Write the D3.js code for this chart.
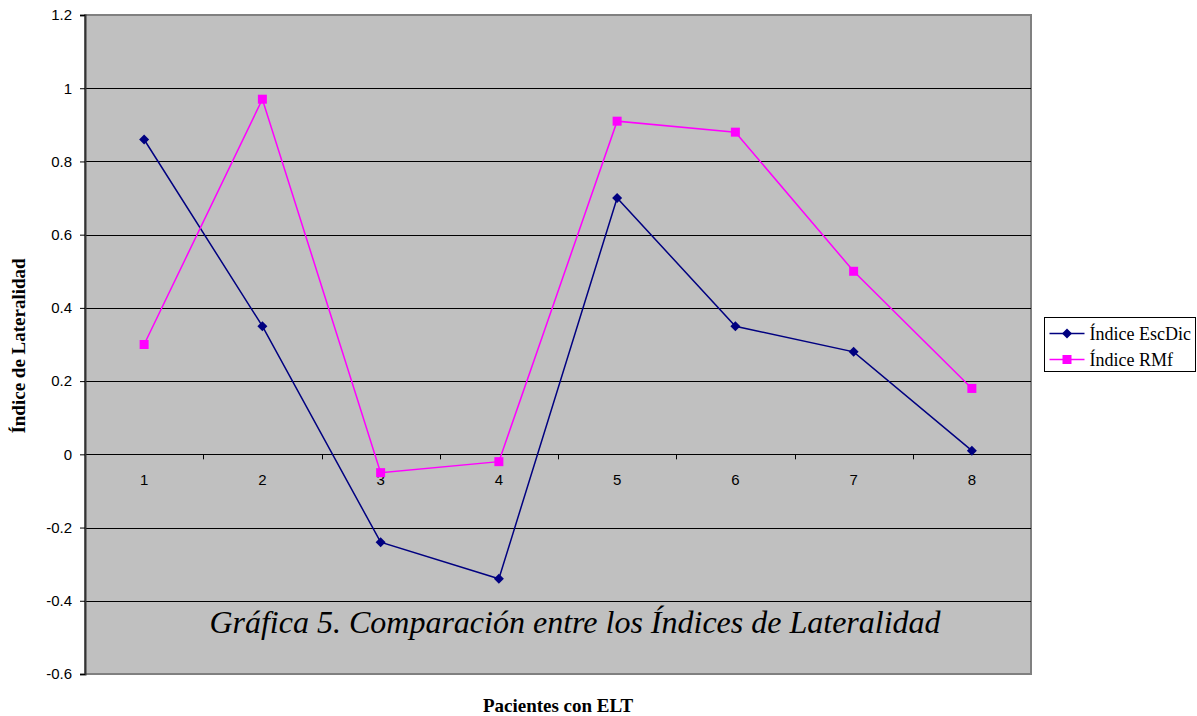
<!DOCTYPE html>
<html>
<head>
<meta charset="utf-8">
<script src="https://cdn.jsdelivr.net/npm/d3@7"></script>
<style>
body{margin:0;background:#fff;}
</style>
</head>
<body>
<div id="chart"></div>
<script>
var categories = ["1","2","3","4","5","6","7","8"];
var escDic = [0.86, 0.35, -0.24, -0.34, 0.70, 0.35, 0.28, 0.01];
var rmf    = [0.30, 0.97, -0.05, -0.02, 0.91, 0.88, 0.50, 0.18];
var yTicks = [-0.6, -0.4, -0.2, 0, 0.2, 0.4, 0.6, 0.8, 1, 1.2];
var seriesNames = ["Índice EscDic", "Índice RMf"];

var W = 1197, H = 716;
var margin = {top: 15, right: 166, bottom: 42, left: 85},
	width = W - margin.left - margin.right,
	height = H - margin.top - margin.bottom;

var svg = d3.select("#chart").append("svg")
	.attr("width", W).attr("height", H);

var g = svg.append("g")
	.attr("transform", "translate(" + margin.left + "," + margin.top + ")");

var x = d3.scaleBand().domain(categories).range([0, width]);
var y = d3.scaleLinear().domain([-0.6, 1.2]).range([height, 0]);

// plot background
g.append("rect")
	.attr("width", width).attr("height", height)
	.attr("fill", "#c0c0c0")
	.attr("stroke", "#808080").attr("stroke-width", 2);

// gridlines
g.selectAll(".grid").data(yTicks.filter(function(d){ return d > -0.6 && d < 1.2; }))
	.enter().append("line")
	.attr("x1", 0).attr("x2", width)
	.attr("y1", function(d){ return Math.round(y(d)) + 0.5; })
	.attr("y2", function(d){ return Math.round(y(d)) + 0.5; })
	.attr("stroke", "#000").attr("stroke-width", 1);

// y axis (plain hyphen for negatives, like the original)
var yAxis = d3.axisLeft(y).tickValues(yTicks).tickSize(5).tickPadding(8)
	.tickFormat(function(d){ return String(+d.toFixed(1)); });
var ya = g.append("g").call(yAxis);
ya.select(".domain").attr("stroke", "#333").attr("stroke-width", 2);
ya.selectAll("text").attr("font-family", "Liberation Sans, Arial, sans-serif")
	.attr("font-size", "15px").attr("fill", "#000");

// x axis along zero line
var xg = g.append("g").attr("transform", "translate(0," + y(0) + ")");
xg.selectAll(".xt").data(categories.slice(1))
	.enter().append("line")
	.attr("x1", function(d){ return Math.round(x(d)) + 0.5; })
	.attr("x2", function(d){ return Math.round(x(d)) + 0.5; })
	.attr("y1", 0).attr("y2", 5)
	.attr("stroke", "#000");
xg.selectAll(".xl").data(categories)
	.enter().append("text")
	.attr("x", function(d){ return x(d) + x.bandwidth()/2; })
	.attr("y", 31)
	.attr("text-anchor", "middle")
	.attr("font-family", "Liberation Sans, Arial, sans-serif")
	.attr("font-size", "15px")
	.text(function(d){ return d; });

var line = d3.line()
	.x(function(d, i){ return x(categories[i]) + x.bandwidth()/2; })
	.y(function(d){ return y(d); });

// series
g.append("path").datum(escDic)
	.attr("d", line).attr("fill", "none")
	.attr("stroke", "#000080").attr("stroke-width", 1.5);
g.append("path").datum(rmf)
	.attr("d", line).attr("fill", "none")
	.attr("stroke", "#ff00ff").attr("stroke-width", 1.5);

var diamond = d3.symbol().type(d3.symbolDiamond2).size(64);
g.selectAll(".m1").data(escDic).enter().append("path")
	.attr("d", diamond)
	.attr("transform", function(d, i){ return "translate(" + (x(categories[i]) + x.bandwidth()/2) + "," + y(d) + ")"; })
	.attr("fill", "#000080");
g.selectAll(".m2").data(rmf).enter().append("rect")
	.attr("x", function(d, i){ return x(categories[i]) + x.bandwidth()/2 - 4.5; })
	.attr("y", function(d){ return y(d) - 4.5; })
	.attr("width", 9).attr("height", 9)
	.attr("fill", "#ff00ff");

// title inside plot
g.append("text")
	.attr("x", 490).attr("y", 618)
	.attr("text-anchor", "middle")
	.attr("font-family", "Liberation Serif, Times New Roman, serif")
	.attr("font-style", "italic")
	.attr("font-size", "32px")
	.text("Gráfica 5. Comparación entre los Índices de Lateralidad");

// axis titles
svg.append("text")
	.attr("transform", "translate(25," + (margin.top + 331) + ")rotate(-90)")
	.attr("text-anchor", "middle")
	.attr("font-family", "Liberation Serif, Times New Roman, serif")
	.attr("font-weight", "bold").attr("font-size", "19px")
	.text("Índice de Lateralidad");
svg.append("text")
	.attr("x", 558).attr("y", 712)
	.attr("text-anchor", "middle")
	.attr("font-family", "Liberation Serif, Times New Roman, serif")
	.attr("font-weight", "bold").attr("font-size", "19px")
	.text("Pacientes con ELT");

// legend
var lg = svg.append("g").attr("transform", "translate(1044.5,317.5)");
lg.append("rect").attr("width", 151).attr("height", 54)
	.attr("fill", "#fff").attr("stroke", "#000");
var colors = ["#000080", "#ff00ff"];
seriesNames.forEach(function(name, i){
	var yy = 16 + i * 26;
	lg.append("line").attr("x1", 5).attr("x2", 40).attr("y1", yy).attr("y2", yy)
		.attr("stroke", colors[i]).attr("stroke-width", 1.5);
	if (i === 0) {
		lg.append("path").attr("d", diamond).attr("transform", "translate(22.5," + yy + ")")
			.attr("fill", colors[i]);
	} else {
		lg.append("rect").attr("x", 18).attr("y", yy - 4.5).attr("width", 9).attr("height", 9)
			.attr("fill", colors[i]);
	}
	lg.append("text").attr("x", 45).attr("y", yy + 6)
		.attr("font-family", "Liberation Serif, Times New Roman, serif")
		.attr("font-size", "18px")
		.text(name);
});
</script>
</body>
</html>
